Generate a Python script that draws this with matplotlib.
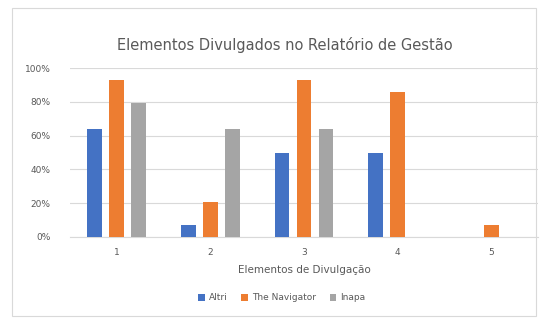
import matplotlib
matplotlib.use("Agg")
import matplotlib.pyplot as plt
import numpy as np
from matplotlib.ticker import PercentFormatter

categories = ["1", "2", "3", "4", "5"]
series_names = ["Altri", "The Navigator", "Inapa"]
altri = [64, 7, 50, 50, 0]
navigator = [93, 21, 93, 86, 7]
inapa = [79, 64, 64, 0, 0]
colors = ["#4472C4", "#ED7D31", "#A5A5A5"]
yticks = [0, 20, 40, 60, 80, 100]

fig = plt.figure(figsize=(5.44, 3.24), dpi=100)
ax = fig.add_axes([70/544, 1-237/324, 468/544, 169/324])

x = np.arange(1, len(categories) + 1)
w = 0.16
off = 0.235
for i, (vals, name, c) in enumerate(zip([altri, navigator, inapa], series_names, colors)):
    ax.bar(x + (i - 1) * off, vals, width=w, color=c, label=name, zorder=3)

ax.set_xlim(0.5, 5.5)
ax.set_ylim(0, 100)
ax.set_yticks(yticks)
ax.yaxis.set_major_formatter(PercentFormatter(decimals=0))
ax.set_xticks(x)
ax.set_xticklabels(categories)
ax.grid(axis="y", color="#D9D9D9", linewidth=0.8, zorder=0)
for s in ["top", "right", "left"]:
    ax.spines[s].set_visible(False)
ax.spines["bottom"].set_color("#D9D9D9")
ax.tick_params(axis="both", length=0, labelsize=6.5, labelcolor="#595959")
ax.tick_params(axis="y", pad=14)
ax.tick_params(axis="x", pad=8)
ax.set_xlabel("Elementos de Divulgação", fontsize=7.5, color="#595959", labelpad=6)

fig.text(285/544, 1-45/324, "Elementos Divulgados no Relatório de Gestão",
         ha="center", va="center", fontsize=10.5, color="#595959")

fig.legend(loc="center", bbox_to_anchor=(282/544, 1-298/324), ncol=3, frameon=False,
           fontsize=6.5, labelcolor="#595959", handlelength=0.7, handleheight=0.7,
           columnspacing=1.5, handletextpad=0.5)

border = plt.Rectangle((12/544, 8/324), 524/544, 308/324, transform=fig.transFigure,
                       fill=False, edgecolor="#D9D9D9", linewidth=0.8)
fig.patches.append(border)

fig.savefig("out.png", dpi=100)
